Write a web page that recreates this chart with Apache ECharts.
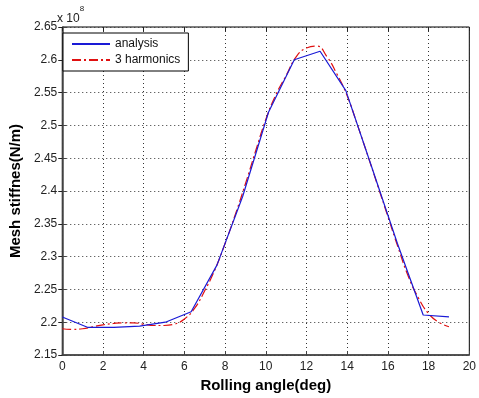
<!DOCTYPE html>
<html>
<head>
<meta charset="utf-8">
<script src="https://cdn.jsdelivr.net/npm/echarts@6/dist/echarts.min.js"></script>
<style>
  html, body { margin: 0; padding: 0; background: #fff; }
  #chart { width: 479px; height: 398px; }
</style>
</head>
<body>
<div id="chart"></div>
<script>
// analysis (blue) - vertices, units of 1e8 N/m
var analysisX = [0, 1.267, 2.533, 3.8, 5.067, 6.333, 7.6, 8.867, 10.133, 11.4, 12.667, 13.933, 15.2, 16.467, 17.733, 19.0];
var analysisY = [2.208, 2.192, 2.192, 2.194, 2.200, 2.216, 2.287, 2.392, 2.520, 2.600, 2.613, 2.553, 2.437, 2.320, 2.211, 2.208];

// 3 harmonics fit (red dash-dot)
var harmX = [0, 0.5, 1, 1.5, 2, 2.5, 3, 3.5, 4, 4.5, 5, 5.5, 6, 6.5, 7, 7.5, 8, 8.5, 9, 9.5,
             10, 10.5, 11, 11.5, 12, 12.5, 13, 13.5, 14, 14.5, 15, 15.5, 16, 16.5, 17, 17.5, 18, 18.5, 19];
var harmY = [2.190, 2.189, 2.190, 2.193, 2.196, 2.198, 2.199, 2.199, 2.197, 2.195, 2.195, 2.197, 2.205, 2.221,
             2.248, 2.280, 2.320, 2.364, 2.411, 2.461, 2.509, 2.547, 2.576, 2.605, 2.618, 2.621, 2.605, 2.578,
             2.545, 2.501, 2.455, 2.408, 2.361, 2.314, 2.270, 2.237, 2.213, 2.200, 2.193];

var xTicks = { min: 0, max: 20, step: 2 };
var yTicks = { min: 2.15, max: 2.65, step: 0.05 };

function pairs(xs, ys) {
  return xs.map(function (x, i) { return [x, ys[i]]; });
}

var chart = echarts.init(document.getElementById('chart'));
var labelFont = { color: '#222', fontSize: 12, fontFamily: 'Liberation Sans, Arial, sans-serif' };
var dotted = { color: '#333', width: 1, type: [1, 3] };

chart.setOption({
  animation: false,
  backgroundColor: '#fff',
  grid: { left: 57, right: 6, top: 27, bottom: 43, show: true, borderColor: '#000', borderWidth: 1 },
  legend: {
    left: 63, top: 33,
    orient: 'vertical',
    backgroundColor: '#fff',
    borderColor: '#000',
    borderWidth: 1,
    padding: [5, 8, 5, 8],
    itemGap: 4,
    itemWidth: 38,
    itemHeight: 12,
    itemStyle: { opacity: 0 },
    textStyle: { color: '#111', fontSize: 12, fontFamily: 'Liberation Sans, Arial, sans-serif' },
    data: ['analysis', '3 harmonics']
  },
  graphic: [{
    type: 'text',
    left: 57, top: 5,
    style: {
      text: '{a|x 10}{b|8}',
      rich: {
        a: { fontSize: 12, fontFamily: 'Liberation Sans, Arial, sans-serif', fill: '#222', padding: [8, 0, 0, 0] },
        b: { fontSize: 8, fontFamily: 'Liberation Sans, Arial, sans-serif', fill: '#222', verticalAlign: 'top' }
      }
    }
  }],
  xAxis: [{
    type: 'value',
    min: xTicks.min, max: xTicks.max, interval: xTicks.step,
    name: 'Rolling angle(deg)',
    nameLocation: 'middle',
    nameGap: 22,
    nameTextStyle: { fontSize: 15, fontWeight: 'bold', color: '#000', fontFamily: 'Liberation Sans, Arial, sans-serif' },
    axisLine: { lineStyle: { color: '#444', width: 1.5 } },
    axisTick: { inside: true, length: 4, lineStyle: { color: '#444' } },
    axisLabel: Object.assign({ margin: 6 }, labelFont),
    splitLine: { show: true, lineStyle: dotted }
  }, {
    type: 'value', position: 'top',
    min: xTicks.min, max: xTicks.max, interval: xTicks.step,
    axisLine: { show: false },
    axisTick: { inside: true, length: 4, lineStyle: { color: '#222' } },
    axisLabel: { show: false },
    splitLine: { show: false }
  }],
  yAxis: [{
    type: 'value',
    min: yTicks.min, max: yTicks.max, interval: yTicks.step,
    name: 'Mesh stiffnes(N/m)',
    nameLocation: 'middle',
    nameGap: 36,
    nameTextStyle: { fontSize: 15, fontWeight: 'bold', color: '#000', fontFamily: 'Liberation Sans, Arial, sans-serif' },
    axisLine: { show: true, lineStyle: { color: '#444', width: 1.5 } },
    axisTick: { show: true, inside: true, length: 4, lineStyle: { color: '#444' } },
    axisLabel: Object.assign({ margin: 5, formatter: function (v) { return String(+v.toFixed(2)); } }, labelFont),
    splitLine: { show: true, lineStyle: dotted }
  }, {
    type: 'value', position: 'right',
    min: yTicks.min, max: yTicks.max, interval: yTicks.step,
    axisLine: { show: false },
    axisTick: { show: true, inside: true, length: 4, lineStyle: { color: '#222' } },
    axisLabel: { show: false },
    splitLine: { show: false }
  }],
  series: [{
    name: 'analysis',
    type: 'line',
    symbol: 'none',
    data: pairs(analysisX, analysisY),
    lineStyle: { color: '#1a1ad6', width: 1.2 },
    itemStyle: { color: '#1a1ad6' },
    z: 3
  }, {
    name: '3 harmonics',
    type: 'line',
    symbol: 'none',
    smooth: true,
    data: pairs(harmX, harmY),
    lineStyle: { color: '#e01010', width: 1.2, type: [9, 3, 2, 3] },
    itemStyle: { color: '#e01010' },
    z: 2
  }]
});
</script>
</body>
</html>
